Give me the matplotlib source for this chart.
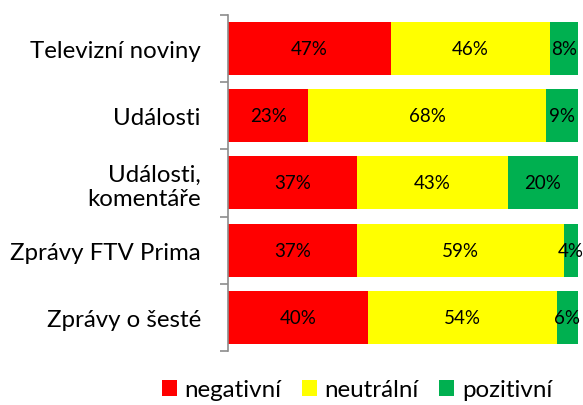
import numpy as np
import matplotlib
matplotlib.use("Agg")
import matplotlib.pyplot as plt

categories = ["Televizní noviny", "Události", "Události,\nkomentáře", "Zprávy FTV Prima", "Zprávy o šesté"]
negativni = [47, 23, 37, 37, 40]
neutralni = [46, 68, 43, 59, 54]
pozitivni = [8, 9, 20, 4, 6]
series_names = ["negativní", "neutrální", "pozitivní"]
colors = ["#ff0000", "#ffff00", "#00b050"]

plt.rcParams["font.family"] = ["Lato", "DejaVu Sans"]

vals = np.array([negativni, neutralni, pozitivni], dtype=float)
shares = vals / vals.sum(axis=0)  # 100% stacked, as in the original
y = np.arange(len(categories))

fig = plt.figure(figsize=(5.83, 4.06), dpi=100)
ax = fig.add_axes([0.391, 0.133, 0.6, 0.828])

left = np.zeros(len(categories))
handles = []
for i, name in enumerate(series_names):
    h = ax.barh(y, shares[i], left=left, height=0.79, color=colors[i], label=name)
    handles.append(h)
    for yy, l, w, v in zip(y, left, shares[i], vals[i]):
        ax.text(l + w / 2, yy, f"{v:.0f}%", ha="center", va="center", fontsize=13.5,
                color="black", clip_on=False)
    left += shares[i]

ax.set_xlim(0, 1)
ax.set_ylim(len(categories) - 0.5, -0.5)
ax.set_xticks([])
ax.set_yticks(y)
ax.set_yticklabels(categories, fontsize=17.3, linespacing=1.2)
ax.tick_params(axis="y", which="major", length=0, pad=19.5)
ax.set_yticks(np.arange(-0.5, len(categories)), minor=True)
ax.tick_params(axis="y", which="minor", length=6, color="#8c8c8c", width=1.2)
for s in ["top", "right", "bottom"]:
    ax.spines[s].set_visible(False)
ax.spines["left"].set_color("#8c8c8c")
ax.spines["left"].set_linewidth(1.2)

fig.legend(handles=handles, labels=series_names, loc="center", bbox_to_anchor=(0.612, 0.037),
           ncol=3, frameon=False, fontsize=17.4, handlelength=0.62, handleheight=0.62,
           handletextpad=0.33, columnspacing=0.83, borderpad=0.1)

fig.savefig("out.png", dpi=100)
